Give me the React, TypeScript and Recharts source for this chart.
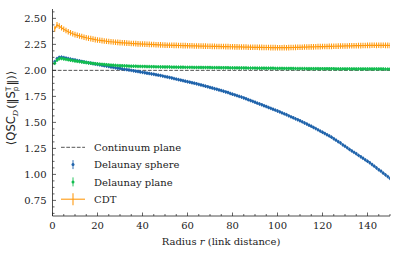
import React from 'react';
import { ComposedChart, Line, XAxis, YAxis, ReferenceLine } from 'recharts';

// radius r (link distance)
const radius = [
  1, 2, 3, 4, 5, 6, 7, 8, 9, 10, 11, 12, 13, 14, 15, 16, 17, 18, 19, 20,
  21, 22, 23, 24, 25, 26, 27, 28, 29, 30, 31, 32, 33, 34, 35, 36, 37, 38, 39, 40,
  41, 42, 43, 44, 45, 46, 47, 48, 49, 50, 51, 52, 53, 54, 55, 56, 57, 58, 59, 60,
  61, 62, 63, 64, 65, 66, 67, 68, 69, 70, 71, 72, 73, 74, 75, 76, 77, 78, 79, 80,
  81, 82, 83, 84, 85, 86, 87, 88, 89, 90, 91, 92, 93, 94, 95, 96, 97, 98, 99, 100,
  101, 102, 103, 104, 105, 106, 107, 108, 109, 110, 111, 112, 113, 114, 115, 116, 117, 118, 119, 120,
  121, 122, 123, 124, 125, 126, 127, 128, 129, 130, 131, 132, 133, 134, 135, 136, 137, 138, 139, 140,
  141, 142, 143, 144, 145, 146, 147, 148, 149, 150,
];

const delaunaySphere = [
  2.084, 2.113, 2.125, 2.127, 2.123, 2.118, 2.113, 2.108, 2.103, 2.099,
  2.094, 2.090, 2.085, 2.081, 2.077, 2.073, 2.069, 2.065, 2.061, 2.057,
  2.053, 2.049, 2.045, 2.041, 2.037, 2.033, 2.029, 2.025, 2.021, 2.018,
  2.014, 2.010, 2.007, 2.003, 2.000, 1.996, 1.992, 1.989, 1.985, 1.981,
  1.977, 1.973, 1.970, 1.966, 1.962, 1.958, 1.954, 1.950, 1.945, 1.940,
  1.936, 1.931, 1.926, 1.921, 1.916, 1.911, 1.906, 1.901, 1.896, 1.891,
  1.886, 1.881, 1.876, 1.871, 1.865, 1.860, 1.854, 1.848, 1.842, 1.836,
  1.830, 1.824, 1.818, 1.812, 1.806, 1.799, 1.792, 1.787, 1.778, 1.771,
  1.764, 1.757, 1.750, 1.743, 1.735, 1.727, 1.718, 1.710, 1.702, 1.694,
  1.685, 1.677, 1.669, 1.660, 1.652, 1.643, 1.635, 1.626, 1.618, 1.609,
  1.601, 1.591, 1.582, 1.574, 1.563, 1.553, 1.544, 1.534, 1.525, 1.515,
  1.505, 1.494, 1.484, 1.473, 1.463, 1.451, 1.440, 1.428, 1.416, 1.405,
  1.393, 1.381, 1.370, 1.358, 1.343, 1.329, 1.314, 1.302, 1.284, 1.270,
  1.255, 1.240, 1.226, 1.212, 1.199, 1.183, 1.169, 1.155, 1.140, 1.126,
  1.112, 1.095, 1.079, 1.062, 1.045, 1.031, 1.012, 0.995, 0.979, 0.962,
];

const delaunayPlane = [
  2.068, 2.098, 2.112, 2.114, 2.110, 2.106, 2.102, 2.098, 2.094, 2.090,
  2.087, 2.084, 2.081, 2.078, 2.075, 2.072, 2.069, 2.066, 2.064, 2.062,
  2.060, 2.058, 2.056, 2.054, 2.052, 2.050, 2.049, 2.048, 2.046, 2.045,
  2.044, 2.043, 2.042, 2.041, 2.040, 2.040, 2.039, 2.038, 2.038, 2.037,
  2.037, 2.036, 2.036, 2.035, 2.035, 2.034, 2.034, 2.033, 2.033, 2.032,
  2.032, 2.032, 2.031, 2.031, 2.031, 2.030, 2.030, 2.030, 2.029, 2.029,
  2.029, 2.029, 2.028, 2.028, 2.028, 2.028, 2.027, 2.027, 2.027, 2.027,
  2.026, 2.026, 2.026, 2.026, 2.025, 2.025, 2.025, 2.025, 2.024, 2.024,
  2.024, 2.024, 2.023, 2.023, 2.023, 2.023, 2.022, 2.022, 2.022, 2.022,
  2.021, 2.021, 2.021, 2.021, 2.020, 2.020, 2.020, 2.020, 2.019, 2.019,
  2.019, 2.019, 2.018, 2.018, 2.018, 2.018, 2.018, 2.017, 2.017, 2.017,
  2.017, 2.017, 2.016, 2.016, 2.016, 2.016, 2.016, 2.016, 2.015, 2.015,
  2.015, 2.015, 2.015, 2.015, 2.015, 2.014, 2.014, 2.014, 2.014, 2.014,
  2.014, 2.014, 2.014, 2.014, 2.013, 2.013, 2.013, 2.013, 2.013, 2.013,
  2.013, 2.013, 2.013, 2.013, 2.013, 2.013, 2.013, 2.012, 2.012, 2.012,
];

const cdt = [
  2.398, 2.437, 2.425, 2.410, 2.396, 2.383, 2.372, 2.362, 2.352, 2.344,
  2.337, 2.331, 2.325, 2.319, 2.314, 2.309, 2.305, 2.300, 2.296, 2.292,
  2.289, 2.286, 2.283, 2.280, 2.277, 2.275, 2.273, 2.271, 2.269, 2.267,
  2.265, 2.264, 2.262, 2.261, 2.259, 2.258, 2.257, 2.255, 2.254, 2.253,
  2.252, 2.251, 2.250, 2.249, 2.248, 2.247, 2.246, 2.245, 2.244, 2.243,
  2.242, 2.242, 2.241, 2.240, 2.240, 2.239, 2.239, 2.238, 2.238, 2.237,
  2.236, 2.236, 2.235, 2.235, 2.234, 2.234, 2.233, 2.233, 2.232, 2.232,
  2.231, 2.231, 2.230, 2.230, 2.229, 2.229, 2.228, 2.228, 2.227, 2.227,
  2.226, 2.226, 2.225, 2.225, 2.224, 2.224, 2.223, 2.223, 2.222, 2.222,
  2.222, 2.221, 2.221, 2.220, 2.220, 2.220, 2.219, 2.219, 2.219, 2.218,
  2.218, 2.218, 2.219, 2.218, 2.219, 2.220, 2.220, 2.221, 2.222, 2.222,
  2.223, 2.224, 2.224, 2.225, 2.226, 2.226, 2.227, 2.228, 2.228, 2.229,
  2.229, 2.230, 2.231, 2.231, 2.232, 2.232, 2.233, 2.234, 2.234, 2.235,
  2.235, 2.236, 2.236, 2.237, 2.237, 2.238, 2.238, 2.239, 2.239, 2.240,
  2.240, 2.241, 2.241, 2.240, 2.241, 2.240, 2.241, 2.240, 2.240, 2.239,
];

const continuumPlane = 2.0;

const xTicks = [
  0, 5, 10, 15, 20, 25, 30, 35, 40, 45, 50, 55, 60, 65, 70, 75,
  80, 85, 90, 95, 100, 105, 110, 115, 120, 125, 130, 135, 140, 145, 150,
];
const yTicks = [
  0.625, 0.6875, 0.75, 0.8125, 0.875, 0.9375, 1.0, 1.0625, 1.125, 1.1875,
  1.25, 1.3125, 1.375, 1.4375, 1.5, 1.5625, 1.625, 1.6875, 1.75, 1.8125,
  1.875, 1.9375, 2.0, 2.0625, 2.125, 2.1875, 2.25, 2.3125, 2.375, 2.4375,
  2.5, 2.5625,
];

const rows = radius.map((r, i) => ({
  r,
  sphere: delaunaySphere[i],
  plane: delaunayPlane[i],
  cdt: cdt[i],
}));

const BLUE = '#1f63ab';
const GREEN = '#12bd4f';
const ORANGE = '#FF9a10';
const INK = '#222';
const SERIF = '"DejaVu Serif", serif';
const SANS = '"DejaVu Sans", sans-serif';

const isMajorX = (v: number) => v % 20 === 0 && v < 150;
const isMajorY = (v: number) => Math.abs(v * 4 - Math.round(v * 4)) < 1e-9;

const BottomTick = ({ x, y, payload }: any) => {
  const major = isMajorX(payload.value);
  return (
    <g>
      <line x1={x} x2={x} y1={y} y2={y - (major ? 3.5 : 2)} stroke={INK} strokeWidth={0.7} />
      {major && (
        <text x={x} y={y + 12.5} textAnchor="middle" fontFamily={SERIF} fontSize={10} fill={INK}>
          {payload.value}
        </text>
      )}
    </g>
  );
};

const TopTick = ({ x, y, payload }: any) => {
  const major = isMajorX(payload.value);
  return <line x1={x} x2={x} y1={y} y2={y + (major ? 3.5 : 2)} stroke={INK} strokeWidth={0.7} />;
};

const LeftTick = ({ x, y, payload }: any) => {
  const major = isMajorY(payload.value);
  return (
    <g>
      <line x1={x} x2={x + (major ? 3.5 : 2)} y1={y} y2={y} stroke={INK} strokeWidth={0.7} />
      {major && (
        <text x={x - 6} y={y + 3.6} textAnchor="end" fontFamily={SERIF} fontSize={10} fill={INK}>
          {payload.value.toFixed(2)}
        </text>
      )}
    </g>
  );
};

const RightTick = ({ x, y, payload }: any) => {
  const major = isMajorY(payload.value);
  return <line x1={x} x2={x - (major ? 3.5 : 2)} y1={y} y2={y} stroke={INK} strokeWidth={0.7} />;
};

// point marker with a small vertical error bar
const pointDot = (color: string, prefix: string) => (p: any) => {
  if (p.cx == null || p.cy == null) return <g key={`${prefix}${p.index}`} />;
  return (
    <g key={`${prefix}${p.index}`}>
      <line x1={p.cx} x2={p.cx} y1={p.cy - 1.8} y2={p.cy + 1.8} stroke={color} strokeWidth={0.9} />
      <circle cx={p.cx} cy={p.cy} r={1.45} fill={color} />
    </g>
  );
};

const cdtDot = (p: any) => {
  if (p.cx == null || p.cy == null) return <g key={`c${p.index}`} />;
  return (
    <line key={`c${p.index}`} x1={p.cx} x2={p.cx} y1={p.cy - 2.8} y2={p.cy + 2.8} stroke={ORANGE} strokeWidth={1.1} />
  );
};

const legendRows = [
  { name: 'Continuum plane', kind: 'dash', color: '#555' },
  { name: 'Delaunay sphere', kind: 'point', color: BLUE },
  { name: 'Delaunay plane', kind: 'point', color: GREEN },
  { name: 'CDT', kind: 'cross', color: ORANGE },
];

const Legend = () => (
  <svg width={150} height={80} style={{ position: 'absolute', left: 55, top: 138 }}>
    {legendRows.map((row, i) => {
      const cy = 9.3 + i * 17.3;
      return (
        <g key={row.name}>
          {row.kind === 'dash' && (
            <line x1={6} x2={30} y1={cy} y2={cy} stroke={row.color} strokeWidth={1} strokeDasharray="3.7 1.6" />
          )}
          {row.kind === 'point' && (
            <g>
              <line x1={18} x2={18} y1={cy - 4.5} y2={cy + 4.5} stroke={row.color} strokeWidth={0.9} />
              <circle cx={18} cy={cy} r={1.5} fill={row.color} />
            </g>
          )}
          {row.kind === 'cross' && (
            <g>
              <line x1={6} x2={30} y1={cy} y2={cy} stroke={row.color} strokeWidth={1.1} />
              <line x1={18} x2={18} y1={cy - 6} y2={cy + 6} stroke={row.color} strokeWidth={1.1} />
            </g>
          )}
          <text x={39} y={cy + 3.6} fontFamily={SERIF} fontSize={10} fill={INK}>
            {row.name}
          </text>
        </g>
      );
    })}
  </svg>
);

const AxisLabels = () => (
  <svg width={399} height={256} style={{ position: 'absolute', left: 0, top: 0, pointerEvents: 'none' }}>
    <text x={221} y={244.5} textAnchor="middle" fontFamily={SERIF} fontSize={10} fill={INK}>
      Radius <tspan fontStyle="italic">r</tspan> (link distance)
    </text>
    <text transform="rotate(-90)" x={-108} y={15} textAnchor="middle" fontSize={11.5} fill={INK} fontFamily={SERIF}>
      <tspan>⟨</tspan>
      <tspan fontFamily={SANS}>QSC</tspan>
      <tspan fontSize={8} fontStyle="italic" dy={2.5}>D</tspan>
      <tspan dy={-2.5} dx={1}>(‖</tspan>
      <tspan fontFamily={SANS}>S</tspan>
      <tspan fontFamily={SANS} fontSize={7.5} dy={-4.5}>T</tspan>
      <tspan fontFamily={SANS} fontSize={7.5} dx={-4.6} dy={7}>p</tspan>
      <tspan dy={-2.5} dx={1}>‖)⟩</tspan>
    </text>
  </svg>
);

export default function App() {
  return (
    <div style={{ position: 'absolute', left: 0, top: 0, width: 399, height: 256, background: '#fff' }}>
      <ComposedChart width={399} height={256} data={rows} margin={{ top: 9, right: 9, bottom: 0, left: 0 }}>
        <XAxis
          dataKey="r"
          type="number"
          domain={[0, 150]}
          ticks={xTicks}
          interval={0}
          allowDataOverflow
          height={40}
          tickSize={0}
          tickMargin={0}
          tickLine={false}
          axisLine={{ stroke: INK, strokeWidth: 0.8 }}
          tick={<BottomTick />}
        />
        <XAxis
          xAxisId="top"
          orientation="top"
          dataKey="r"
          type="number"
          domain={[0, 150]}
          ticks={xTicks}
          interval={0}
          allowDataOverflow
          height={0}
          tickSize={0}
          tickMargin={0}
          tickLine={false}
          axisLine={{ stroke: INK, strokeWidth: 0.8 }}
          tick={<TopTick />}
        />
        <YAxis
          type="number"
          domain={[0.6, 2.59]}
          ticks={yTicks}
          interval={0}
          allowDataOverflow
          width={52.5}
          tickSize={0}
          tickMargin={0}
          tickLine={false}
          axisLine={{ stroke: INK, strokeWidth: 0.8 }}
          tick={<LeftTick />}
        />
        <YAxis
          yAxisId="right"
          orientation="right"
          type="number"
          domain={[0.6, 2.59]}
          ticks={yTicks}
          interval={0}
          allowDataOverflow
          width={0}
          tickSize={0}
          tickMargin={0}
          tickLine={false}
          axisLine={{ stroke: INK, strokeWidth: 0.8 }}
          tick={<RightTick />}
        />
        <ReferenceLine y={continuumPlane} stroke="#555" strokeWidth={1} strokeDasharray="3.7 1.6" />
        <Line
          dataKey="sphere"
          stroke="none"
          dot={pointDot(BLUE, 's')}
          activeDot={false}
          isAnimationActive={false}
        />
        <Line
          dataKey="plane"
          stroke="none"
          dot={pointDot(GREEN, 'p')}
          activeDot={false}
          isAnimationActive={false}
        />
        <Line
          dataKey="cdt"
          stroke={ORANGE}
          strokeWidth={1.2}
          dot={cdtDot}
          activeDot={false}
          isAnimationActive={false}
        />
      </ComposedChart>
      <Legend />
      <AxisLabels />
    </div>
  );
}
